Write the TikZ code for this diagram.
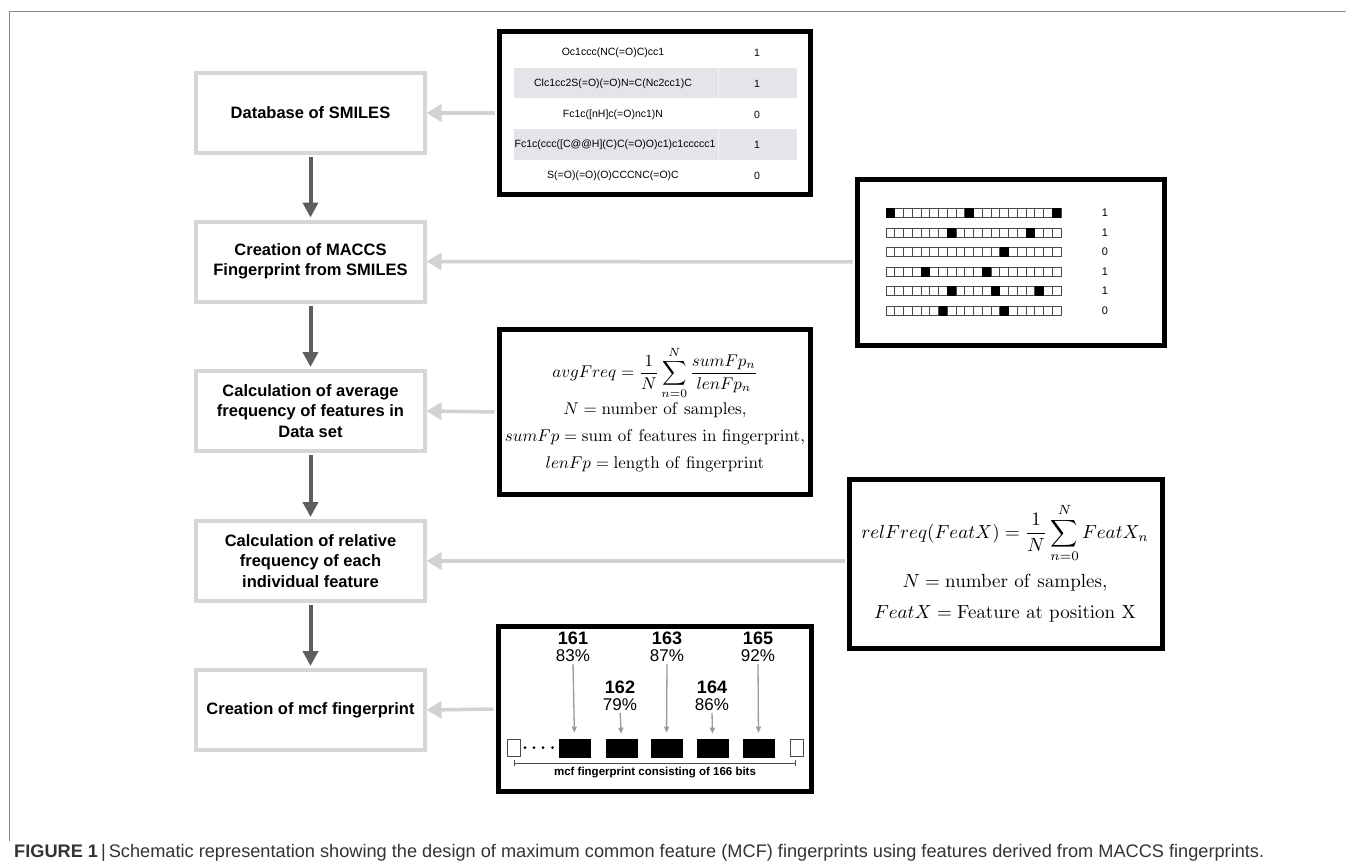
\documentclass[tikz,border=0pt]{standalone}
\usepackage{amsmath}
\usepackage[no-math]{fontspec}
\usepackage{graphicx}
\newfontfamily\hel{Liberation Sans}
\usetikzlibrary{arrows.meta}
\definecolor{boxgray}{HTML}{D6D6D6}
\definecolor{arrgray}{HTML}{D2D2D2}
\definecolor{darkarr}{HTML}{5E5E5E}
\definecolor{bandgray}{HTML}{E4E4E9}
\definecolor{framegray}{HTML}{8A8A8A}
\definecolor{cellgray}{HTML}{4A4A4A}
\definecolor{thingray}{HTML}{9A9A9A}
\definecolor{capgray}{HTML}{333333}
\newcommand{\fA}[1]{\scalebox{1.7}{#1}}
\newcommand{\fB}[1]{\scalebox{1.9}{#1}}
\begin{document}
\begin{tikzpicture}[x=1pt,y=-1pt,
  lb/.style={draw=boxgray, line width=4pt, fill=white, minimum width=229pt, minimum height=80pt, inner sep=0pt, align=center, font=\hel\bfseries\fontsize{16.5}{20.5}\selectfont},
  bb/.style={draw=black, line width=5pt, inner sep=0pt},
  garrow/.style={draw=arrgray, line width=3.5pt, -{Triangle[length=15pt,width=17pt]}},
  darrow/.style={draw=darkarr, line width=4pt, -{Triangle[length=15pt,width=15pt]}},
  smi/.style={font=\hel\fontsize{10.5}{12}\selectfont, inner sep=0pt},
  bitlbl/.style={font=\hel\fontsize{11}{13}\selectfont, inner sep=0pt},
  fm/.style={inner sep=0pt},
  num/.style={font=\hel\bfseries\fontsize{18}{20}\selectfont, inner sep=0pt},
  pct/.style={font=\hel\fontsize{17}{19}\selectfont, inner sep=0pt},
  bit/.style={fill=black, draw=black, line width=0.6pt, minimum width=31pt, minimum height=18pt, inner sep=0pt},
  wbit/.style={fill=white, draw=cellgray, line width=1pt, minimum width=13pt, minimum height=17pt, inner sep=0pt},
  thinarrow/.style={draw=thingray, line width=1.3pt, -{Triangle[length=6pt,width=5pt]}},
  cell/.style={draw=cellgray, line width=0.9pt, fill=white}
]
\useasboundingbox (0,0) rectangle (1346,864);
\fill[white] (0,0) rectangle (1346,864);
% outer frame (cropped at the right)
\draw[framegray, line width=1pt] (9.5,841) -- (9.5,11.5) -- (1346,11.5);

% left flow boxes
\node[lb] (db) at (310.5,113) {Database of SMILES};
\node[lb] (maccs) at (310.5,261.5) {Creation of MACCS\\Fingerprint from SMILES};
\node[lb] (avg) at (310.5,411) {Calculation of average\\frequency of features in\\Data set};
\node[lb] (rel) at (310.5,561) {Calculation of relative\\frequency of each\\individual feature};
\node[lb] (mcf) at (310.5,710) {Creation of mcf fingerprint};

\draw[darrow, shorten <=2pt, shorten >=2pt] (db.south) -- (maccs.north);
\draw[darrow, shorten <=2pt, shorten >=2pt] (maccs.south) -- (avg.north);
\draw[darrow, shorten <=2pt, shorten >=2pt] (avg.south) -- (rel.north);
\draw[darrow, shorten <=2pt, shorten >=2pt] (rel.south) -- (mcf.north);

% right boxes
\node[bb, minimum width=311pt, minimum height=163pt] (smbox) at (655,113) {};
\node[bb, minimum width=307pt, minimum height=166pt] (fpbox) at (1011,262) {};
\node[bb, minimum width=311pt, minimum height=165pt] (f1box) at (655,412) {};
\node[bb, minimum width=313pt, minimum height=169pt] (f2box) at (1006,564) {};
\node[bb, minimum width=313pt, minimum height=165pt] (mcfbox) at (655,709) {};

% connectors to left boxes
\draw[garrow, shorten <=2.5pt, shorten >=-0.5pt] (smbox.west) -- (db.east);
\draw[garrow, shorten <=2.5pt, shorten >=-0.5pt] (fpbox.west) -- (maccs.east);
\draw[garrow, shorten <=2.5pt, shorten >=-0.5pt] (f1box.west) -- (avg.east);
\draw[garrow, shorten <=2.5pt, shorten >=-0.5pt] (f2box.west |- rel.east) -- (rel.east);
\draw[garrow, shorten <=2.5pt, shorten >=-0.5pt] (mcfbox.west) -- (mcf.east);

% SMILES table
\fill[bandgray] (514,68.5) rectangle (797,98.5);
\fill[bandgray] (514,129.5) rectangle (797,159.5);
\draw[white!60!bandgray, line width=0.8pt] (718,68.5) -- (718,98.5) (718,129.5) -- (718,159.5);
\node[smi] (s1) at (613,53) {Oc1ccc(NC(=O)C)cc1};
\node[smi] (s2) at (613,83.5) {Clc1cc2S(=O)(=O)N=C(Nc2cc1)C};
\node[smi] (s3) at (613,115) {Fc1c([nH]c(=O)nc1)N};
\node[smi] (s4) at (615,144.5) {Fc1c(ccc([C@@H](C)C(=O)O)c1)c1ccccc1};
\node[smi] (s5) at (613,176) {S(=O)(=O)(O)CCCNC(=O)C};
\node[smi] (v1) at (757,53) {1};
\node[smi] (v2) at (757,83.5) {1};
\node[smi] (v3) at (757,115) {0};
\node[smi] (v4) at (757,144.5) {1};
\node[smi] (v5) at (757,176) {0};

% fingerprint grid
\foreach \yy in {213,233,252,272,291,311}{
  \foreach \k in {0,...,19}{
    \draw[cell] ({886+8.75*\k},{\yy-4.75}) rectangle ++(8.75,9.5);
  }
}
\foreach \yy/\k in {213/0,213/9,213/19,233/7,233/16,252/13,272/4,272/11,291/7,291/12,291/17,311/6,311/13}{
  \fill[black] ({886+8.75*\k},{\yy-4.75}) rectangle ++(8.75,9.5);
}
\node[bitlbl] (c1) at (1105,213) {1};
\node[bitlbl] (c2) at (1105,233) {1};
\node[bitlbl] (c3) at (1105,252) {0};
\node[bitlbl] (c4) at (1105,272) {1};
\node[bitlbl] (c5) at (1105,291) {1};
\node[bitlbl] (c6) at (1105,311) {0};

% formula box 1
\node[fm] (e1) at (655,373) {\fA{$\displaystyle avgFreq=\frac{1}{N}\sum_{n=0}^{N}\frac{sumFp_n}{lenFp_n}$}};
\node[fm] (e2) at (655,410) {\fA{$N=\mathrm{number\ of\ samples},$}};
\node[fm] (e3) at (655,437) {\fA{$sumFp=\mathrm{sum\ of\ features\ in\ fingerprint},$}};
\node[fm] (e4) at (655,464) {\fA{$lenFp=\mathrm{length\ of\ fingerprint}$}};

% formula box 2
\node[fm] (g1) at (1005,533) {\fB{$\displaystyle relFreq(FeatX)=\frac{1}{N}\sum_{n=0}^{N}FeatX_n$}};
\node[fm] (g2) at (1005,583) {\fB{$N=\mathrm{number\ of\ samples},$}};
\node[fm] (g3) at (1005,614) {\fB{$FeatX=\mathrm{Feature\ at\ position\ X}$}};

% mcf fingerprint
\node[bit] (b1) at (574.5,748) {};
\node[bit] (b2) at (621.5,748) {};
\node[bit] (b3) at (666.5,748) {};
\node[bit] (b4) at (712.5,748) {};
\node[bit] (b5) at (758.5,748) {};
\node[wbit] (wl) at (513.5,747.5) {};
\node[wbit] (wr) at (796.5,747.5) {};
\foreach \xx in {525,534,543,552.5}{\fill[black] (\xx,747.5) circle (1.5);}
\node[num] (n161) at (573,638) {161};
\node[pct] (p161) at (573,656) {83\%};
\node[num] (n163) at (667,638) {163};
\node[pct] (p163) at (667,656) {87\%};
\node[num] (n165) at (758,638) {165};
\node[pct] (p165) at (758,656) {92\%};
\node[num] (n162) at (620,687) {162};
\node[pct] (p162) at (620,705) {79\%};
\node[num] (n164) at (712,687) {164};
\node[pct] (p164) at (712,705) {86\%};
\draw[thinarrow, shorten <=2pt, shorten >=6pt] (p161.south) -- (b1.north);
\draw[thinarrow, shorten <=2pt, shorten >=6pt] (p163.south) -- (b3.north);
\draw[thinarrow, shorten <=2pt, shorten >=6pt] (p165.south) -- (b5.north);
\draw[thinarrow, shorten <=2pt, shorten >=5pt] (p162.south) -- (b2.north);
\draw[thinarrow, shorten <=2pt, shorten >=5pt] (p164.south) -- (b4.north);
\coordinate (brl) at (514,763);
\coordinate (brr) at (795,763);
\draw[cellgray, line width=1pt] (brl) -- (brr);
\draw[cellgray, line width=1pt] ([yshift=-3pt]brl) -- ([yshift=3pt]brl);
\draw[cellgray, line width=1pt] ([yshift=-3pt]brr) -- ([yshift=3pt]brr);
\node[font=\hel\bfseries\fontsize{11.5}{13}\selectfont, inner sep=0pt] (mcflbl) at (655,773) {mcf fingerprint consisting of 166 bits};

% caption
\node[anchor=west, inner sep=0pt, text=capgray] (cap) at (14,853) {\resizebox{1250pt}{!}{\hel\fontsize{16}{18}\selectfont\textbf{FIGURE 1}\,|\,Schematic representation showing the design of maximum common feature (MCF) fingerprints using features derived from MACCS fingerprints.}};
\end{tikzpicture}
\end{document}
